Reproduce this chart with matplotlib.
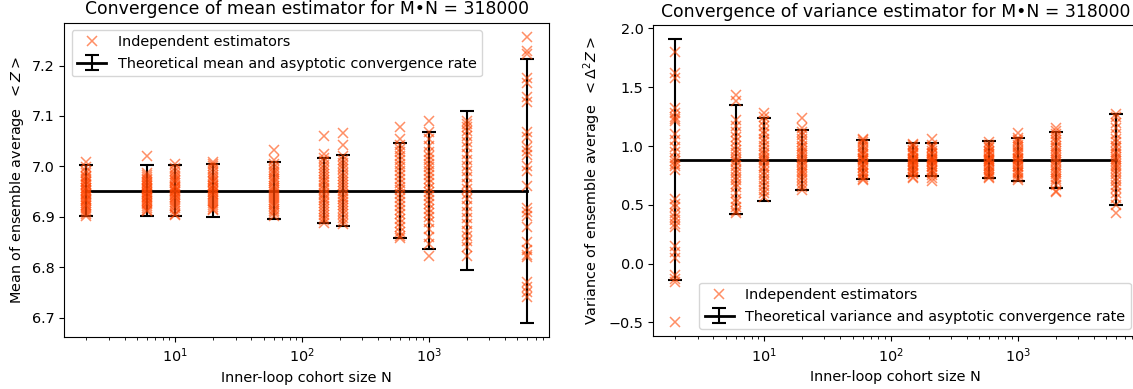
import numpy as np
import matplotlib
matplotlib.use("Agg")
import matplotlib.pyplot as plt

plt.rcParams["font.size"] = 10.35

# Inner-loop cohort sizes (M*N = 318000)
cohort_sizes = [2, 6, 10, 20, 60, 150, 212, 600, 1000, 2000, 6000]

# theoretical values and half-widths of the asymptotic convergence bars
mean_theory = 6.952
mean_halfwidth = [0.050, 0.050, 0.051, 0.052, 0.057, 0.065, 0.070, 0.095, 0.116, 0.157, 0.262]
var_theory = 0.885
var_halfwidth = [1.025, 0.465, 0.354, 0.255, 0.168, 0.139, 0.139, 0.157, 0.184, 0.238, 0.387]

# independent mean estimators for each N
mean_n2 = [7.008, 6.998, 6.991, 6.987, 6.981, 6.979, 6.974, 6.971, 6.969, 6.965, 6.963, 6.958, 6.957, 6.954, 6.951,
           6.948, 6.946, 6.944, 6.939, 6.936, 6.933, 6.931, 6.927, 6.924, 6.921, 6.917, 6.913, 6.909, 6.905, 6.901]
mean_n6 = [7.020, 6.986, 6.982, 6.978, 6.975, 6.972, 6.969, 6.966, 6.963, 6.961, 6.958, 6.955, 6.953, 6.950, 6.948,
           6.945, 6.942, 6.940, 6.937, 6.934, 6.931, 6.928, 6.925, 6.921, 6.918, 6.914, 6.912]
mean_n10 = [7.004, 6.996, 6.990, 6.985, 6.981, 6.977, 6.973, 6.970, 6.966, 6.962, 6.960, 6.957, 6.954, 6.951, 6.949,
            6.946, 6.943, 6.940, 6.937, 6.934, 6.930, 6.926, 6.921, 6.917, 6.912, 6.906, 6.903]
mean_n20 = [7.008, 7.004, 7.000, 6.994, 6.988, 6.983, 6.979, 6.975, 6.971, 6.968, 6.964, 6.961, 6.958, 6.955, 6.952,
            6.949, 6.946, 6.943, 6.940, 6.936, 6.932, 6.928, 6.924, 6.920, 6.916, 6.913]
mean_n60 = [7.033, 7.012, 7.005, 6.999, 6.993, 6.988, 6.984, 6.979, 6.975, 6.970, 6.966, 6.962, 6.958, 6.954, 6.950,
            6.946, 6.942, 6.938, 6.934, 6.930, 6.926, 6.921, 6.916, 6.912, 6.907, 6.902]
mean_n150 = [7.061, 7.025, 7.016, 7.010, 7.003, 6.997, 6.990, 6.985, 6.979, 6.973, 6.968, 6.963, 6.958, 6.953, 6.948,
             6.943, 6.938, 6.933, 6.928, 6.922, 6.916, 6.910, 6.904, 6.898, 6.893, 6.888]
mean_n212 = [7.067, 7.042, 7.020, 7.013, 7.006, 7.000, 6.994, 6.987, 6.981, 6.975, 6.969, 6.963, 6.958, 6.952, 6.946,
             6.940, 6.935, 6.929, 6.923, 6.917, 6.911, 6.905, 6.898, 6.892, 6.886]
mean_n600 = [7.078, 7.055, 7.042, 7.035, 7.028, 7.020, 7.013, 7.005, 6.998, 6.990, 6.982, 6.975, 6.967, 6.960, 6.953,
             6.946, 6.938, 6.930, 6.922, 6.914, 6.905, 6.896, 6.888, 6.879, 6.870, 6.862, 6.858]
mean_n1000 = [7.090, 7.068, 7.055, 7.040, 7.028, 7.020, 7.012, 7.005, 6.998, 6.990, 6.982, 6.974, 6.966, 6.958, 6.950,
              6.942, 6.934, 6.925, 6.915, 6.908, 6.900, 6.890, 6.875, 6.860, 6.846, 6.823]
mean_n2000 = [7.090, 7.085, 7.078, 7.070, 7.060, 7.048, 7.038, 7.025, 7.012, 7.000, 6.990, 6.978, 6.965, 6.955, 6.945,
              6.935, 6.922, 6.910, 6.898, 6.885, 6.872, 6.862, 6.852, 6.840, 6.822]
mean_n6000 = [7.257, 7.228, 7.223, 7.175, 7.165, 7.138, 7.128, 7.068, 7.058, 7.038, 7.030, 7.022, 7.000, 6.990, 6.962,
              6.918, 6.910, 6.902, 6.880, 6.850, 6.835, 6.825, 6.820, 6.770, 6.760, 6.750, 6.740]

# independent variance estimators for each N
var_n2 = [1.80, 1.62, 1.58, 1.32, 1.28, 1.25, 1.23, 1.21, 1.10, 1.05, 0.99, 0.95, 0.90, 0.87, 0.85, 0.83, 0.80,
          0.55, 0.51, 0.48, 0.43, 0.40, 0.37, 0.34, 0.31, 0.15, 0.10, 0.05, -0.10, -0.13, -0.16, -0.50]
var_n6 = [1.43, 1.38, 1.22, 1.17, 1.12, 1.08, 1.04, 1.00, 0.97, 0.94, 0.91, 0.88, 0.86, 0.83, 0.80, 0.77, 0.74,
          0.71, 0.68, 0.65, 0.60, 0.55, 0.52, 0.48, 0.45, 0.43]
var_n10 = [1.28, 1.25, 1.21, 1.17, 1.13, 1.10, 1.06, 1.03, 1.00, 0.97, 0.94, 0.92, 0.90, 0.88, 0.86, 0.83, 0.81,
           0.78, 0.75, 0.72, 0.69, 0.66, 0.63, 0.60, 0.57]
var_n20 = [1.24, 1.15, 1.12, 1.09, 1.06, 1.03, 1.00, 0.98, 0.96, 0.94, 0.92, 0.90, 0.88, 0.86, 0.84, 0.82, 0.80,
           0.78, 0.76, 0.74, 0.71, 0.68, 0.65, 0.63]
var_n60 = [1.06, 1.05, 1.03, 1.01, 0.99, 0.97, 0.95, 0.93, 0.92, 0.90, 0.89, 0.88, 0.87, 0.85, 0.84, 0.82, 0.81,
           0.79, 0.77, 0.76, 0.74, 0.72, 0.71]
var_n150 = [1.02, 1.01, 0.99, 0.97, 0.96, 0.94, 0.93, 0.92, 0.90, 0.89, 0.88, 0.87, 0.86, 0.85, 0.84, 0.83, 0.81,
            0.80, 0.79, 0.77, 0.76, 0.74, 0.73]
var_n212 = [1.06, 1.01, 0.99, 0.98, 0.96, 0.94, 0.93, 0.91, 0.90, 0.89, 0.88, 0.87, 0.86, 0.85, 0.83, 0.82, 0.80,
            0.79, 0.77, 0.75, 0.73, 0.70]
var_n600 = [1.03, 1.01, 0.99, 0.98, 0.96, 0.95, 0.93, 0.92, 0.90, 0.89, 0.88, 0.87, 0.86, 0.84, 0.83, 0.81, 0.80,
            0.78, 0.77, 0.75, 0.74, 0.73]
var_n1000 = [1.11, 1.07, 1.05, 1.03, 1.01, 0.99, 0.97, 0.95, 0.94, 0.92, 0.90, 0.89, 0.88, 0.86, 0.85, 0.83, 0.82,
             0.80, 0.78, 0.77, 0.75, 0.73, 0.71]
var_n2000 = [1.15, 1.13, 1.10, 1.08, 1.05, 1.03, 1.00, 0.98, 0.96, 0.94, 0.92, 0.90, 0.88, 0.86, 0.84, 0.82, 0.80,
             0.78, 0.76, 0.74, 0.72, 0.70, 0.67, 0.62, 0.61]
var_n6000 = [1.27, 1.25, 1.20, 1.15, 1.10, 1.06, 1.03, 1.00, 0.98, 0.95, 0.93, 0.91, 0.89, 0.87, 0.85, 0.83, 0.81,
             0.79, 0.76, 0.73, 0.70, 0.67, 0.64, 0.60, 0.56, 0.50, 0.43]

mean_samples = [mean_n2, mean_n6, mean_n10, mean_n20, mean_n60, mean_n150, mean_n212,
                mean_n600, mean_n1000, mean_n2000, mean_n6000]
var_samples = [var_n2, var_n6, var_n10, var_n20, var_n60, var_n150, var_n212,
               var_n600, var_n1000, var_n2000, var_n6000]


def draw_panel(ax, samples, theory, halfwidth, what, ylabel, legend_loc):
    xs = np.concatenate([np.full(len(s), n) for n, s in zip(cohort_sizes, samples)])
    ys = np.concatenate([np.asarray(s) for s in samples])

    eb = ax.errorbar(cohort_sizes, np.full(len(cohort_sizes), theory), yerr=halfwidth,
                     fmt="-", color="black", lw=2, elinewidth=1.5, capsize=5, capthick=1.5,
                     zorder=2)
    pts, = ax.plot(xs, ys, "x", color="orangered", alpha=0.6, ms=7, mew=1.1, zorder=3)

    ax.set_xscale("log")
    ax.set_title(f"Convergence of {what} estimator for M\u2022N = 318000", fontsize=12.4)
    ax.set_xlabel("Inner-loop cohort size N")
    ax.set_ylabel(ylabel)
    ax.legend([pts, eb], ["Independent estimators",
                          f"Theoretical {what} and asyptotic convergence rate"],
              loc=legend_loc)


fig = plt.figure(figsize=(11.33, 3.89), dpi=100)
ax1 = fig.add_axes([0.0568, 0.134, 0.428, 0.808])
ax2 = fig.add_axes([0.5766, 0.135, 0.428, 0.801])

draw_panel(ax1, mean_samples, mean_theory, mean_halfwidth, "mean",
           r"Mean of ensemble average  $<Z>$", "upper left")
draw_panel(ax2, var_samples, var_theory, var_halfwidth, "variance",
           r"Variance of ensemble average  $<\Delta^2 Z>$", "lower right")

fig.savefig("out.png", dpi=100)
